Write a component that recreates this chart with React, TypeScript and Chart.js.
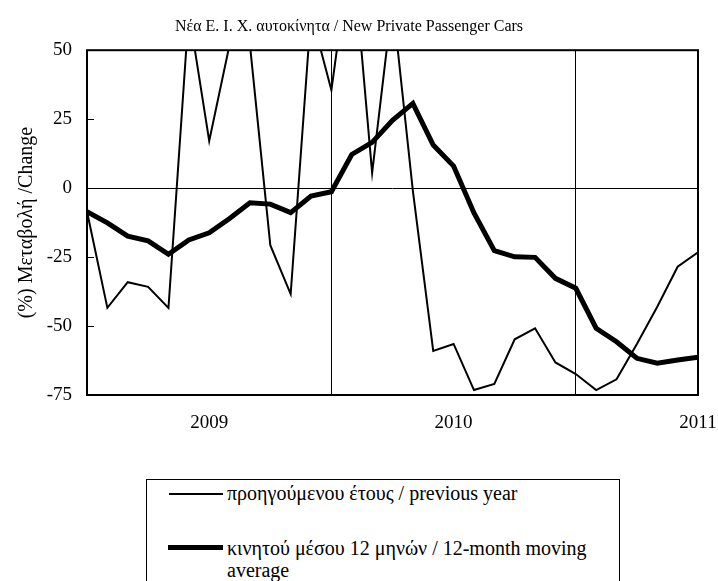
import React, { useEffect, useRef } from 'react';
import { Chart, registerables } from 'chart.js';

Chart.register(...registerables);

const chartTitle = 'Νέα Ε. Ι. Χ. αυτοκίνητα / New Private Passenger Cars';
const yAxisTitle = '(%) Μεταβολή /Change';

const months = [
  '2008-07', '2008-08', '2008-09', '2008-10', '2008-11', '2008-12',
  '2009-01', '2009-02', '2009-03', '2009-04', '2009-05', '2009-06',
  '2009-07', '2009-08', '2009-09', '2009-10', '2009-11', '2009-12',
  '2010-01', '2010-02', '2010-03', '2010-04', '2010-05', '2010-06',
  '2010-07', '2010-08', '2010-09', '2010-10', '2010-11', '2010-12',
  '2011-01',
];

const yearLabelMonths = ['2009-01', '2010-01', '2011-01'];
const yearLabels = ['2009', '2010', '2011'];
const gridMonths = ['2009-07', '2010-07'];

const seriesNames = [
  'προηγούμενου έτους / previous year',
  'κινητού μέσου 12 μηνών / 12-month moving average',
];

const previousYear = [
  -8.5, -43.4, -34.1, -35.8, -43.4, 64, 17.1, 52, 52, -20.7, -38.4,
  63.5, 35.5, 90, 5.5, 68, -1, -59, -56.5, -73.2, -71, -54.8,
  -50.8, -63.2, -67.4, -73.2, -69.3, -56.5, -43, -28.5, -23.3,
];

const movingAverage12 = [
  -8.5, -12.6, -17.4, -19.1, -24, -18.8, -16.2, -11, -5.3, -5.8, -8.9,
  -2.9, -1.3, 12.2, 16.6, 24.6, 30.7, 15.6, 8.0, -9, -22.7, -24.9,
  -25.1, -32.7, -36.3, -50.8, -55.7, -61.7, -63.5, -62.3, -61.3,
];

const yMin = -75;
const yMax = 50;
const yStep = 25;

const FONT = '"Liberation Serif", "DejaVu Serif", serif';

const framePlugin = {
  id: 'frame',
  afterDatasetsDraw(chart: any) {
    const { ctx, chartArea: a, scales } = chart;
    const y = scales.y;
    ctx.save();
    ctx.strokeStyle = '#000';
    ctx.lineWidth = 1;
    for (let v = yMin; v <= yMax; v += yStep) {
      const py = Math.round(y.getPixelForValue(v)) + 0.5;
      ctx.beginPath();
      ctx.moveTo(a.left, py);
      ctx.lineTo(a.left + 7, py);
      ctx.stroke();
    }
    ctx.lineWidth = 2;
    ctx.strokeRect(a.left, a.top, a.right - a.left, a.bottom - a.top);
    ctx.restore();
  },
};

function ChartCanvas() {
  const ref = useRef<HTMLCanvasElement | null>(null);
  useEffect(() => {
    if (!ref.current) return;
    const toPoints = (arr: number[]) => arr.map((v, i) => ({ x: i, y: v }));
    const tickIdx = [0]
      .concat(yearLabelMonths.map((m) => months.indexOf(m)))
      .concat(gridMonths.map((m) => months.indexOf(m)))
      .sort((p, q) => p - q);
    const chart = new Chart(ref.current, {
      type: 'line',
      data: {
        datasets: [
          {
            label: seriesNames[0],
            data: toPoints(previousYear),
            borderColor: '#000',
            borderWidth: 2,
            pointRadius: 0,
            tension: 0,
            clip: 0,
          },
          {
            label: seriesNames[1],
            data: toPoints(movingAverage12),
            borderColor: '#000',
            borderWidth: 5,
            pointRadius: 0,
            tension: 0,
            clip: 0,
            borderJoinStyle: 'miter',
          },
        ],
      },
      options: {
        animation: false,
        responsive: false,
        events: [],
        layout: { padding: { left: 0, right: 20, top: 0, bottom: 0 } },
        plugins: {
          legend: { display: false },
          tooltip: { enabled: false },
          title: {
            display: true,
            text: chartTitle,
            color: '#000',
            font: { family: FONT, size: 16, weight: 'normal' },
            padding: { top: 17, bottom: 14 },
          },
        },
        scales: {
          x: {
            type: 'linear',
            min: 0,
            max: months.length - 1,
            afterBuildTicks: (scale: any) => {
              scale.ticks = tickIdx.map((value) => ({ value }));
            },
            afterFit: (scale: any) => {
              scale.height = 55;
              scale.paddingLeft = 0;
              scale.paddingRight = 0;
            },
            ticks: {
              autoSkip: false,
              maxRotation: 0,
              padding: 17,
              color: '#000',
              font: { family: FONT, size: 19 },
              callback: (value: any) => {
                const k = yearLabelMonths.indexOf(months[Number(value)]);
                return k >= 0 ? yearLabels[k] : '';
              },
            },
            grid: {
              drawTicks: false,
              lineWidth: 1,
              color: (c: any) =>
                c.tick && gridMonths.indexOf(months[c.tick.value]) >= 0 ? '#000' : 'rgba(0,0,0,0)',
            },
            border: { display: false },
          },
          y: {
            min: yMin,
            max: yMax,
            afterFit: (scale: any) => {
              scale.width = 87;
              scale.paddingTop = 0;
              scale.paddingBottom = 0;
            },
            ticks: {
              stepSize: yStep,
              padding: 15,
              color: '#000',
              font: { family: FONT, size: 19 },
            },
            grid: {
              drawTicks: false,
              lineWidth: 1,
              color: (c: any) => (c.tick && c.tick.value === 0 ? '#000' : 'rgba(0,0,0,0)'),
            },
            border: { display: false },
            title: {
              display: true,
              text: yAxisTitle,
              color: '#000',
              font: { family: FONT, size: 20 },
              padding: { top: 15, bottom: 0 },
            },
          },
        },
      },
      plugins: [framePlugin],
    });
    return () => chart.destroy();
  }, []);
  return <canvas ref={ref} width={718} height={450} style={{ display: 'block' }} />;
}

export default function App() {
  return (
    <div style={{ position: 'absolute', left: 0, top: 0, width: 718, height: 581, background: '#fff', overflow: 'hidden' }}>
      <ChartCanvas />
      <div
        style={{
          position: 'absolute',
          left: 146,
          top: 479,
          width: 474,
          height: 120,
          border: '1px solid #000',
          boxSizing: 'border-box',
          background: '#fff',
          fontFamily: FONT,
          fontSize: 20,
          lineHeight: '22px',
          color: '#000',
        }}
      >
        <div style={{ position: 'absolute', left: 22, top: 13, width: 54, height: 2, background: '#000' }} />
        <div style={{ position: 'absolute', left: 80, top: 2, whiteSpace: 'nowrap' }}>{seriesNames[0]}</div>
        <div style={{ position: 'absolute', left: 21, top: 65, width: 55, height: 5, background: '#000' }} />
        <div style={{ position: 'absolute', left: 80, top: 57, whiteSpace: 'nowrap' }}>
          κινητού μέσου 12 μηνών / 12-month moving
          <br />
          average
        </div>
      </div>
    </div>
  );
}
